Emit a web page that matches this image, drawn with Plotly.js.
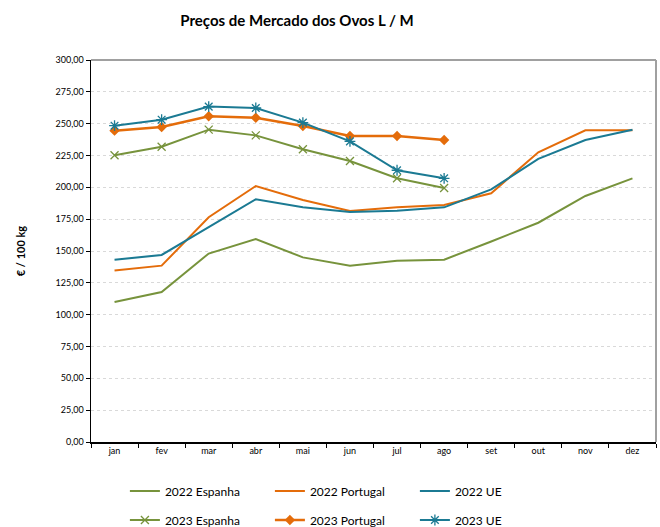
<!DOCTYPE html>
<html><head><meta charset="utf-8">
<script src="https://cdn.plot.ly/plotly-3.0.1.min.js"></script>
<style>body{margin:0;padding:0;background:#fff}#chart{width:660px;height:527px}</style>
</head><body><div id="chart"></div>
<script>
const months = ['jan','fev','mar','abr','mai','jun','jul','ago','set','out','nov','dez'];
const months2023 = ['jan','fev','mar','abr','mai','jun','jul','ago'];
const espanha2022 = [110.0, 117.8, 148.0, 159.4, 145.0, 138.5, 142.4, 143.2, 157.5, 172.2, 193.2, 207.0];
const portugal2022 = [134.6, 138.5, 176.5, 201.0, 190.0, 181.4, 184.3, 186.1, 195.3, 227.5, 244.8, 244.8];
const ue2022 = [143.2, 146.9, 168.8, 190.6, 184.3, 180.6, 181.7, 184.3, 198.4, 222.3, 237.2, 245.3];
const espanha2023 = [225.2, 231.9, 245.3, 240.8, 229.9, 220.7, 207.1, 199.5];
const portugal2023 = [244.5, 247.4, 255.8, 254.7, 248.2, 240.3, 240.3, 237.2];
const ue2023 = [248.4, 253.1, 263.4, 262.3, 250.8, 236.1, 213.4, 207.1];

const GREEN = '#77933C', ORANGE = '#E46C0A', TEAL = '#1B7A93';
const font = 'Lato, "Open Sans", "Liberation Sans", sans-serif';

const traces = [
  {x: months, y: espanha2022, name: '2022 Espanha', mode: 'lines', line: {color: GREEN, width: 2}, legend: 'legend'},
  {x: months, y: portugal2022, name: '2022 Portugal', mode: 'lines', line: {color: ORANGE, width: 2}, legend: 'legend'},
  {x: months, y: ue2022, name: '2022 UE', mode: 'lines', line: {color: TEAL, width: 2}, legend: 'legend'},
  {x: months2023, y: espanha2023, name: '2023 Espanha', mode: 'lines+markers', line: {color: GREEN, width: 2},
   marker: {symbol: 'x-thin-open', size: 8, color: GREEN, line: {color: GREEN, width: 1.3}}, legend: 'legend2'},
  {x: months2023, y: portugal2023, name: '2023 Portugal', mode: 'lines+markers', line: {color: ORANGE, width: 2.5},
   marker: {symbol: 'diamond', size: 8, color: ORANGE}, legend: 'legend2'},
  {x: months2023, y: ue2023, name: '2023 UE', mode: 'lines+markers', line: {color: TEAL, width: 2},
   marker: {symbol: 'asterisk-open', size: 9, color: TEAL, line: {color: TEAL, width: 1.3}}, legend: 'legend2'}
];

const legendCommon = {orientation: 'h', xref: 'paper', yref: 'container', xanchor: 'left', yanchor: 'middle',
  font: {family: font, size: 12, color: '#000'}, entrywidth: 100, entrywidthmode: 'pixels',
  bgcolor: 'rgba(0,0,0,0)', itemwidth: 30, tracegroupgap: 0};

const layout = {
  width: 660, height: 527,
  margin: {l: 91, r: 4, t: 60, b: 85},
  paper_bgcolor: '#fff', plot_bgcolor: '#fff',
  separators: ',.',
  font: {family: font, color: '#000'},
  title: {text: '<b>Preços de Mercado dos Ovos L / M</b>', x: 0.45, xanchor: 'center', y: 0.96, yanchor: 'middle',
          font: {family: font, size: 15, color: '#000'}},
  xaxis: {type: 'category', categoryarray: months, categoryorder: 'array', tickson: 'boundaries',
          ticks: 'outside', ticklen: 4, tickcolor: '#000', showline: true, linecolor: '#000', linewidth: 1.5,
          showgrid: false, tickfont: {family: font, size: 9, color: '#000'}, range: [-0.5, 11.5], fixedrange: true},
  yaxis: {range: [0, 300], dtick: 25, tickformat: '.2f', ticks: 'outside', ticklen: 4, tickcolor: '#000',
          showline: true, linecolor: '#000', linewidth: 1.5, showgrid: true, gridcolor: '#d9d9d9', griddash: 'dot',
          gridwidth: 1, zeroline: false, tickfont: {family: font, size: 9, color: '#000'},
          title: {text: '<b>€ / 100 kg</b>', font: {family: font, size: 11, color: '#000'}, standoff: 27}},
  shapes: [
    {type: 'line', xref: 'paper', yref: 'paper', x0: 0, x1: 1, y0: 1, y1: 1, line: {color: '#a0a0a0', width: 2}},
    {type: 'line', xref: 'paper', yref: 'paper', x0: 1, x1: 1, y0: 0, y1: 1, line: {color: '#a0a0a0', width: 2}}
  ],
  legend: Object.assign({}, legendCommon, {x: 0.06, y: 36/527}),
  legend2: Object.assign({}, legendCommon, {x: 0.06, y: 7/527}),
  showlegend: true
};

Plotly.newPlot('chart', traces, layout, {displayModeBar: false, staticPlot: true});
</script></body></html>
